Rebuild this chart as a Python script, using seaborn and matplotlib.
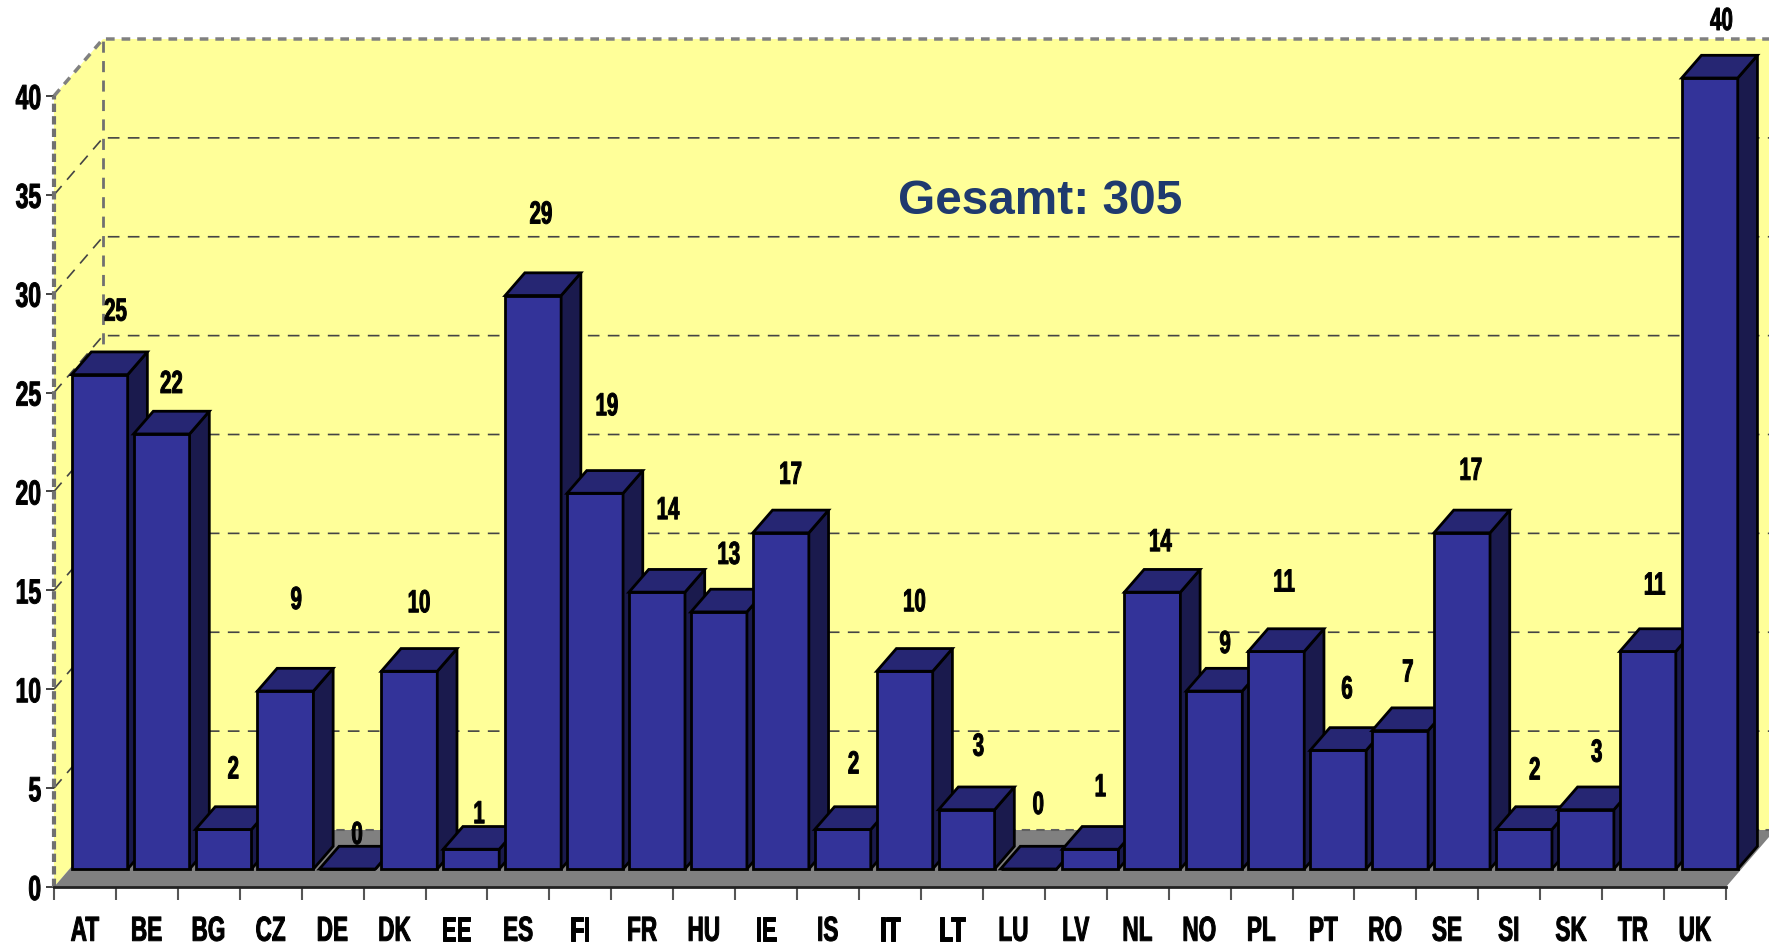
from matplotlib import pyplot as plt
from matplotlib.patches import Polygon
from matplotlib.patheffects import AbstractPathEffect
from matplotlib.transforms import Affine2D
import seaborn as sns

countries = ["AT", "BE", "BG", "CZ", "DE", "DK", "EE", "ES", "FI", "FR", "HU", "IE", "IS", "IT",
             "LT", "LU", "LV", "NL", "NO", "PL", "PT", "RO", "SE", "SI", "SK", "TR", "UK"]
counts = [25, 22, 2, 9, 0, 10, 1, 29, 19, 14, 13, 17, 2, 10, 3, 0, 1, 14, 9, 11, 6, 7, 17, 2, 3, 11, 40]
y_ticks = [0, 5, 10, 15, 20, 25, 30, 35, 40]

# where the value labels float, in pixels from the middle of each bar top
label_dx = [16, 10, 10, 11, 10, 10, 8, 8, 12, 11, 10, 10, 11, 10, 12, 10, 10, 8, 11, 8, 9, 8, 9, 11, 11, 7, 12]
label_rise = [62, 49, 59, 90, 33, 67, 34, 80, 86, 81, 56, 57, 64, 68, 62, 63, 61, 49, 46, 68, 60, 57, 61, 58, 56, 65, 56]

FRONT = "#333399"
TOP = "#262673"
SIDE = "#1a1a4d"
WALL = "#ffff99"
FLOOR = "#808080"


class Narrow(AbstractPathEffect):
    """Squeezes text sideways, there is no condensed font installed."""
    def __init__(self, ratio, anchor=0.5, weight=0.7):
        super().__init__()
        self.ratio = ratio
        self.anchor = anchor
        self.weight = weight

    def draw_path(self, renderer, gc, tpath, affine, rgbFace=None):
        width = tpath.get_extents().x1
        squeeze = Affine2D().scale(self.ratio, 1).translate((1 - self.ratio) * width * self.anchor, 0)
        gc0 = renderer.new_gc()
        gc0.copy_properties(gc)
        gc0.set_linewidth(self.weight)  # squeezing thins the strokes, thicken them again
        renderer.draw_path(gc0, tpath, squeeze + affine, rgbFace)
        gc0.restore()


sns.set_style("white")
plt.rcParams['font.family'] = ['Liberation Sans']

fig = plt.figure(figsize=(17.69, 9.47), dpi=100)
ax = fig.add_axes([54 / 1769, 60 / 947, 1672 / 1769, 791 / 947])
ax.patch.set_alpha(0)

sns.barplot(x=countries, y=counts, color=FRONT, saturation=1, width=56 / 61.93,
            edgecolor="black", linewidth=2, ax=ax)
ax.set_xlim(-0.5, 26.5)
ax.set_ylim(0, 40)
ax.set_xlabel("")
ax.set_ylabel("")

# pixels to data units
px_x = 27 / 1672
px_y = 40 / 791

# box behind the bars
wall_dx, wall_dy = 49 * px_x, 57 * px_y
x0, x1 = -0.5, 26.5
ax.add_patch(Polygon([(x0, 0), (x0, 40), (x0 + wall_dx, 40 + wall_dy), (x0 + wall_dx, wall_dy)],
                     fc=WALL, ec="none", zorder=0, clip_on=False))
ax.add_patch(Polygon([(x0 + wall_dx, wall_dy), (x0 + wall_dx, 40 + wall_dy), (x1 + wall_dx, 40 + wall_dy), (x1 + wall_dx, wall_dy)],
                     fc=WALL, ec="none", zorder=0, clip_on=False))
ax.add_patch(Polygon([(x0, 0), (x0 + wall_dx, wall_dy), (x1 + wall_dx, wall_dy), (x1, 0)],
                     fc=FLOOR, ec="none", zorder=0.5, clip_on=False))

for v in y_ticks[1:-1]:
    ax.plot([x0, x0 + wall_dx, x1 + wall_dx], [v, v + wall_dy, v + wall_dy], color="#444444", lw=1.2,
            dashes=(7, 5), zorder=1, clip_on=False)
ax.plot([x0, x0 + wall_dx, x1 + wall_dx], [40, 40 + wall_dy, 40 + wall_dy], color="#808080", lw=2.5,
        dashes=(2.5, 2), zorder=1, clip_on=False)
ax.plot([x0 + wall_dx, x0 + wall_dx], [wall_dy, 40 + wall_dy], color="#707070", lw=2, dashes=(4, 3), zorder=1, clip_on=False)
ax.plot([x0, x0], [0, 40], color="#707070", lw=3, dashes=(2, 1), zorder=1, clip_on=False)
ax.plot([x0 + wall_dx, x1 + wall_dx], [wall_dy, wall_dy], color="#606060", lw=1.5, dashes=(4, 3), zorder=1, clip_on=False)

# bars: seaborn draws the fronts, depth faces are built from them
bar_dx, bar_dy = 14.7 * px_x, 18 * px_y
depth_x, depth_y = 19.7 * px_x, 22.7 * px_y
for i, (patch, value) in enumerate(zip(ax.patches[:len(counts)], counts)):
    patch.set_x(patch.get_x() + bar_dx)
    patch.set_y(bar_dy)
    patch.set_zorder(3 + i)
    patch.set_clip_on(False)
    left = patch.get_x()
    right = left + patch.get_width()
    top = bar_dy + value
    ax.add_patch(Polygon([(right, bar_dy), (right, top), (right + depth_x, top + depth_y), (right + depth_x, bar_dy + depth_y)],
                         fc=SIDE, ec="black", lw=2, zorder=3 + i, clip_on=False))
    ax.add_patch(Polygon([(left, top), (left + depth_x, top + depth_y), (right + depth_x, top + depth_y), (right, top)],
                         fc=TOP, ec="black", lw=2, zorder=3 + i, clip_on=False))
    ax.annotate(str(value), xy=((left + right) / 2, top), xytext=(label_dx[i] * 0.72, label_rise[i] * 0.72),
                textcoords="offset points", ha="center", va="center", fontsize=23, fontweight="bold",
                color="black", zorder=60, annotation_clip=False, path_effects=[Narrow(0.64)])

ax.set_yticks(y_ticks)
ax.set_xticks([i - 0.5 for i in range(28)])
ax.set_xticklabels([])
ax.set_xticks(range(27), labels=countries, minor=True)
ax.tick_params(axis="y", length=6, width=1.2, color="#222222", left=True, pad=3, labelsize=25)
ax.tick_params(axis="x", which="major", length=9, width=1.5, color="#555555", bottom=True)
ax.tick_params(axis="x", which="minor", length=0, pad=20, labelsize=25)
for t in ax.get_yticklabels():
    t.set_fontweight("bold")
    t.set_color("black")
    t.set_path_effects([Narrow(0.66, anchor=1)])
for t in ax.get_xminorticklabels():
    t.set_fontweight("bold")
    t.set_color("black")
    t.set_path_effects([Narrow(0.65)])

sns.despine(ax=ax, left=True, top=True, right=True, bottom=False)
ax.spines["bottom"].set_color("#222222")
ax.spines["bottom"].set_linewidth(2)
ax.spines["bottom"].set_zorder(2)

fig.text(1040 / 1769, 1 - 201.5 / 947, "Gesamt: 305", fontsize=34.4, fontweight="bold",
         color="#1f3a6e", ha="center", va="center")

fig.savefig("out.png", dpi=100)
plt.close()
